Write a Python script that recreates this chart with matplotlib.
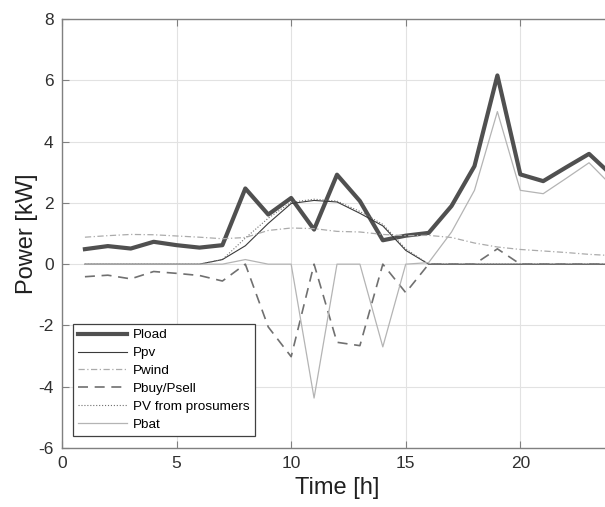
import numpy as np
import matplotlib
matplotlib.use("Agg")
import matplotlib.pyplot as plt

plt.rcParams['font.family'] = ['Liberation Sans', 'DejaVu Sans']
plt.rcParams['axes.unicode_minus'] = False

hours = np.arange(1, 25)
p_load = [0.49, 0.59, 0.51, 0.73, 0.62, 0.54, 0.62, 2.47, 1.62, 2.16, 1.13, 2.92,
          2.06, 0.78, 0.93, 1.02, 1.90, 3.20, 6.16, 2.93, 2.71, 3.16, 3.60, 2.90]
p_pv = [0, 0, 0, 0, 0, 0, 0.15, 0.60, 1.33, 1.98, 2.08, 2.03,
        1.66, 1.25, 0.45, 0, 0, 0, 0, 0, 0, 0, 0, 0]
p_wind = [0.88, 0.93, 0.97, 0.96, 0.92, 0.88, 0.83, 0.87, 1.10, 1.18, 1.16, 1.07,
          1.05, 0.97, 0.93, 0.94, 0.87, 0.69, 0.56, 0.48, 0.43, 0.38, 0.32, 0.28]
p_buy = [-0.41, -0.36, -0.48, -0.24, -0.30, -0.37, -0.55, 0, -2.05, -3.02, 0, -2.55,
         -2.66, 0, -0.93, 0, 0, 0, 0.50, 0, 0, 0, 0, 0]
pv_pros = [0, 0, 0, 0, 0, 0, 0.15, 0.85, 1.50, 2.02, 2.12, 2.06,
           1.72, 1.30, 0.50, 0, 0, 0, 0, 0, 0, 0, 0, 0]
p_bat = [0, 0, 0, 0, 0, 0, 0, 0.15, 0, 0, -4.37, 0,
         0, -2.70, 0, 0.05, 1.05, 2.41, 4.98, 2.41, 2.30, 2.80, 3.31, 2.55]

fig = plt.figure(figsize=(6.05, 5.07), dpi=100)
ax = fig.add_axes([0.1025, 0.1164, 0.909, 0.846])

ax.plot(hours, p_load, color='#505050', lw=3.0, label='Pload')
ax.plot(hours, p_pv, color='#3a3a3a', lw=0.8, label='Ppv')
ax.plot(hours, p_wind, color='#ababab', lw=0.9, ls=(0, (5, 2, 1, 2)), label='Pwind')
ax.plot(hours, p_buy, color='#707070', lw=1.2, ls=(0, (6, 4)), label='Pbuy/Psell')
ax.plot(hours, pv_pros, color='#707070', lw=0.8, ls=':', label='PV from prosumers')
ax.plot(hours, p_bat, color='#b4b4b4', lw=0.9, label='Pbat')

ax.set_xlim(0, 24)
ax.set_ylim(-6, 8)
ax.set_xticks([0, 5, 10, 15, 20])
ax.set_yticks(range(-6, 9, 2))
ax.grid(True, color='#e2e2e2', lw=0.8)
ax.set_axisbelow(True)
ax.tick_params(direction='in', length=5, top=True, right=True,
               labelsize=12.5, colors='#808080', labelcolor='#303030', pad=6)
for s in ax.spines.values():
    s.set_color('#808080')
    s.set_linewidth(1.0)

ax.set_xlabel('Time [h]', fontsize=17, color='#202020', labelpad=4)
ax.set_ylabel('Power [kW]', fontsize=17, color='#202020', labelpad=0)

leg = ax.legend(loc='lower left', bbox_to_anchor=(0.02, 0.028), fontsize=9.7,
                frameon=True, fancybox=False, framealpha=1, edgecolor='#404040',
                handlelength=3.6, labelspacing=0.4, borderpad=0.4,
                handletextpad=0.45, borderaxespad=0)
leg.get_frame().set_linewidth(0.9)

fig.savefig('out.png', dpi=100)
